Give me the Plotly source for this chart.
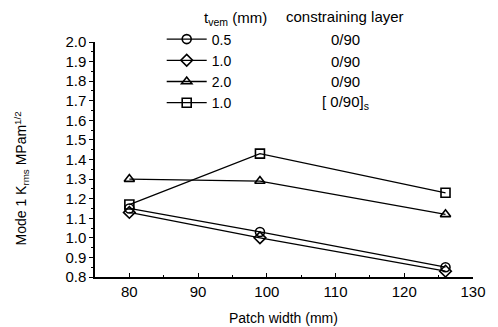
import plotly.graph_objects as go

patch_width = [80, 99, 126]
k_05 = [1.15, 1.03, 0.85]
k_10 = [1.13, 1.00, 0.83]
k_20 = [1.30, 1.29, 1.12]
k_10s = [1.17, 1.43, 1.23]

series_names = ["0.5", "1.0", "2.0", "1.0"]
layers = ["0/90", "0/90", "0/90", "[ 0/90]<sub>s</sub>"]
symbols = ["circle-open", "diamond-open", "triangle-up-open", "square-open"]
series = [k_05, k_10, k_20, k_10s]

y_ticks = [0.8, 0.9, 1.0, 1.1, 1.2, 1.3, 1.4, 1.5, 1.6, 1.7, 1.8, 1.9, 2.0]
x_ticks = [80, 90, 100, 110, 120, 130]

FONT = "Liberation Sans, Arial, sans-serif"

fig = go.Figure()
for name, sym, vals in zip(series_names, symbols, series):
    fig.add_trace(go.Scatter(
        x=patch_width, y=vals, mode="lines+markers", name=name,
        line=dict(color="black", width=1.3),
        marker=dict(symbol=sym, size=9, color="black", line=dict(width=1.6, color="black")),
    ))

# page body has an 8px margin; figure sized to fill the window after that offset
OFF = 8
W, H = 498 - OFF, 327 - OFF
# plot area in window (screen) coordinates
SL, ST, SR, SB = 95, 42, 486, 277
L, T = SL - OFF, ST - OFF
R, B = W - (SR - OFF), H - (SB - OFF)
pw, ph = SR - SL, SB - ST

def px(xs):
    return (xs - SL) / pw

def py(ys):
    return (SB - ys) / ph

def ann(text, xs, ys, size=15, xanchor="center", **kw):
    return dict(text=text, x=px(xs), y=py(ys), xref="paper", yref="paper",
                xanchor=xanchor, yanchor="middle", showarrow=False,
                font=dict(size=size, family=FONT, color="black"), **kw)

annotations = [
    ann("Patch width (mm)", 290, 318, size=14),
    ann("Mode 1 K<sub>rms</sub> MPam<sup>1/2</sup>", 19, 179, size=14, textangle=-90),
    ann("t<sub>vem</sub> (mm)", 206, 18, size=15, xanchor="left"),
    ann("constraining layer", 291, 17, size=15, xanchor="left"),
]
row_y = [40, 61, 81, 102]
for ry, lay in zip(row_y, layers):
    annotations.append(ann(lay, 354, ry, size=15))

fig.update_layout(
    width=W, height=H,
    margin=dict(l=L, r=R, t=T, b=B, pad=0),
    paper_bgcolor="white", plot_bgcolor="white",
    font=dict(family=FONT, color="black", size=15),
    showlegend=True,
    legend=dict(x=px(164), y=py(23.5), xanchor="left", yanchor="top",
                bgcolor="rgba(0,0,0,0)", font=dict(size=14, family=FONT, color="black"),
                itemwidth=40, tracegroupgap=0),
    annotations=annotations,
    xaxis=dict(range=[75, 130], tickvals=x_ticks, ticktext=[str(v) for v in x_ticks],
               showgrid=False, zeroline=False, showline=True, linecolor="black", linewidth=1.5,
               ticks="inside", ticklen=4, tickcolor="black", tickwidth=1.3,
               ticklabeloverflow="allow",
               minor=dict(dtick=5, tick0=75, ticks="inside", ticklen=2, tickcolor="black"),
               tickfont=dict(size=15, family=FONT, color="black")),
    yaxis=dict(range=[0.8, 2.0], tickvals=y_ticks, ticktext=[f"{v:.1f}" for v in y_ticks],
               showgrid=False, zeroline=False, showline=True, linecolor="black", linewidth=1.5,
               ticks="outside", ticklen=4, tickcolor="black", tickwidth=1.3,
               minor=dict(dtick=0.05, tick0=0.8, ticks="outside", ticklen=2, tickcolor="black"),
               tickfont=dict(size=15, family=FONT, color="black")),
)

fig.write_html("out.html")
